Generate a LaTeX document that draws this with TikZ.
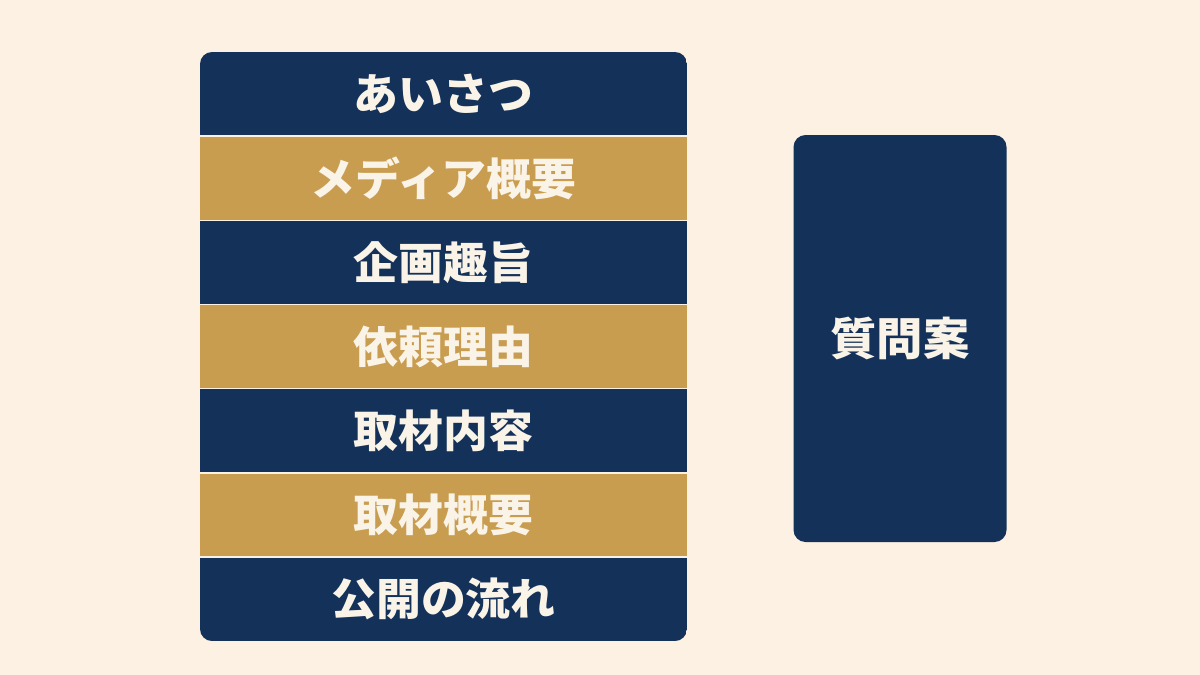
\documentclass[tikz,border=0pt]{standalone}
\usepackage{fontspec}
\newfontfamily\jp{Noto Sans CJK JP}
\definecolor{bgc}{RGB}{252,241,227}
\definecolor{navy}{RGB}{19,49,89}
\definecolor{gold}{RGB}{201,157,80}
\definecolor{cream}{RGB}{250,243,232}
\tikzset{
  rowbox/.style={rectangle, inner sep=0pt, outer sep=0pt, minimum width=487pt, minimum height=84.2pt,
    text=cream, font=\jp\bfseries\fontsize{44}{50}\selectfont},
  navyrow/.style={rowbox, fill=navy},
  goldrow/.style={rowbox, fill=gold},
  sepline/.style={draw=bgc, line width=1.5pt},
  qbox/.style={rectangle, rounded corners=12pt, fill=navy, inner sep=0pt, minimum width=213pt, minimum height=407pt,
    text=cream, font=\jp\bfseries\fontsize{45}{50}\selectfont}
}
\newcommand{\widen}[1]{\raisebox{-1pt}{\scalebox{1.02}[1]{#1}}}
\begin{document}
\begin{tikzpicture}[x=1pt,y=-1pt]
\useasboundingbox (0,0) rectangle (1200,675);
\fill[bgc] (0,0) rectangle (1200,675);
\begin{scope}
\clip[rounded corners=12pt] (200,52) rectangle (687,641);
\node[navyrow] (r1) at (443.5,94.1) {\widen{あいさつ}};
\node[goldrow] (r2) at (443.5,178.2) {\widen{メディア概要}};
\node[navyrow] (r3) at (443.5,262.4) {\widen{企画趣旨}};
\node[goldrow] (r4) at (443.5,346.5) {\widen{依頼理由}};
\node[navyrow] (r5) at (443.5,430.7) {\widen{取材内容}};
\node[goldrow] (r6) at (443.5,514.8) {\widen{取材概要}};
\node[navyrow] (r7) at (443.5,599) {\widen{公開の流れ}};
\end{scope}
\foreach \a/\b in {r1/r2,r2/r3,r3/r4,r4/r5,r5/r6,r6/r7}
  \draw[sepline] (\a.south west) -- (\a.south east);
\node[qbox] (q) at (900,338.5) {\raisebox{5pt}{\scalebox{1.03}[1]{質問案}}};
\end{tikzpicture}
\end{document}
